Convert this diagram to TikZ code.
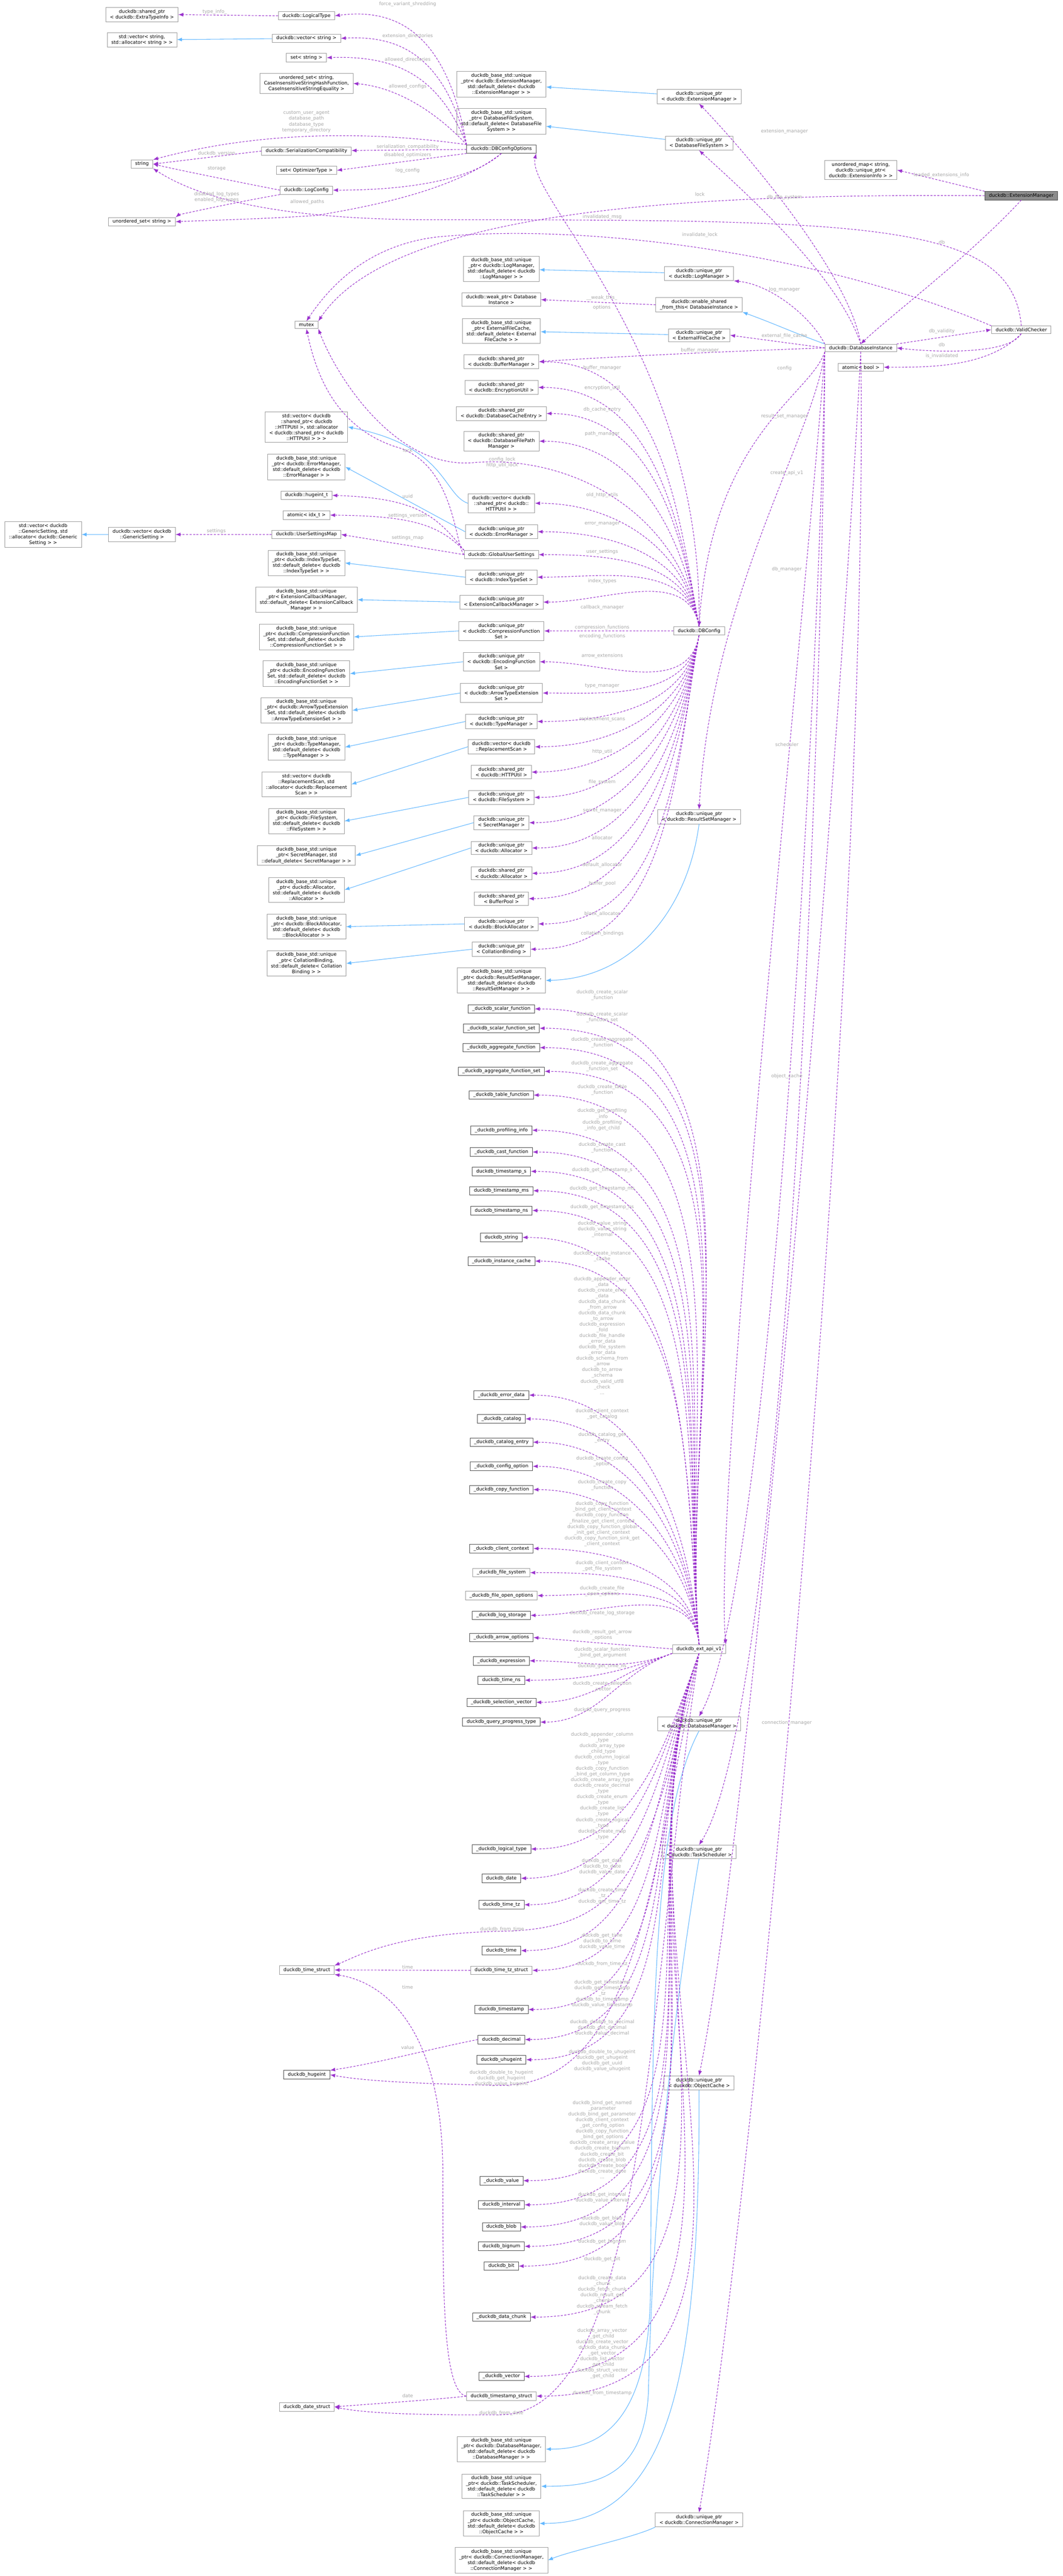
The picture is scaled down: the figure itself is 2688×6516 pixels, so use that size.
\documentclass[tikz,border=0pt]{standalone}
\usepackage{fontspec}
\setmainfont{DejaVu Sans}
\usetikzlibrary{arrows.meta}
\definecolor{mem}{HTML}{9A32CD}
\definecolor{inh}{HTML}{63B8FF}
\definecolor{lblc}{HTML}{A8A8A8}
\definecolor{brd}{HTML}{9A9A9A}
\begin{document}
\begin{tikzpicture}[x=0.25pt,y=-0.25pt,
 n/.style={draw=brd,line width=0.25pt,fill=white,font=\fontsize{3}{3.6}\selectfont,align=center,inner xsep=2.6pt,inner ysep=1.2pt},
 nd/.style={n,draw=black!70},
 hl/.style={n,fill=black!45,draw=black!70},
 l/.style={font=\fontsize{3}{3.6}\selectfont,text=lblc,align=center,inner sep=0pt},
 mem/.style={draw=mem,line width=0.35pt,dash pattern=on 1.3pt off 0.9pt,-{Latex[length=3.2pt,width=2.4pt]}},
 inh/.style={draw=inh,line width=0.35pt,-{Latex[length=3.2pt,width=2.4pt]}}]
\path[fill=white] (0,0) rectangle (2688,6516);
\useasboundingbox (0,0) rectangle (2688,6516);
% ---- left columns
\node[n] (eti) at (359,37) {duckdb::shared\_ptr\\< duckdb::ExtraTypeInfo >};
\node[n] (svs) at (359,101) {std::vector< string,\\ std::allocator< string > >};
\node[n] (str) at (359,415) {string};
\node[n] (uss) at (359,561) {unordered\_set< string >};
\node[n] (svg) at (109,1352) {std::vector< duckdb\\::GenericSetting, std\\::allocator< duckdb::Generic\\Setting > >};
\node[n] (vgs) at (359,1352) {duckdb::vector< duckdb\\::GenericSetting >};
% ---- column 775
\node[n] (lt) at (775,40) {duckdb::LogicalType};
\node[n] (vs) at (775,97) {duckdb::vector< string >};
\node[n] (ss) at (775,146) {set< string >};
\node[n] (usci) at (775,211) {unordered\_set< string,\\ CaseInsensitiveStringHashFunction,\\ CaseInsensitiveStringEquality >};
\node[n] (sc) at (775,382) {duckdb::SerializationCompatibility};
\node[n] (sot) at (775,431) {set< OptimizerType >};
\node[n] (lc) at (775,481) {duckdb::LogConfig};
\node[n] (mtx) at (775,822) {mutex};
\node[n] (svh) at (775,1080) {std::vector< duckdb\\::shared\_ptr< duckdb\\::HTTPUtil >, std::allocator\\< duckdb::shared\_ptr< duckdb\\::HTTPUtil > > >};
\node[n] (bem) at (775,1181) {duckdb\_base\_std::unique\\\_ptr< duckdb::ErrorManager,\\ std::default\_delete< duckdb\\::ErrorManager > >};
\node[n] (hug) at (775,1253) {duckdb::hugeint\_t};
\node[n] (aidx) at (775,1303) {atomic< idx\_t >};
\node[n] (usm) at (775,1352) {duckdb::UserSettingsMap};
\node[n] (bit) at (775,1424) {duckdb\_base\_std::unique\\\_ptr< duckdb::IndexTypeSet,\\ std::default\_delete< duckdb\\::IndexTypeSet > >};
\node[n] (becb) at (775,1517) {duckdb\_base\_std::unique\\\_ptr< ExtensionCallbackManager,\\ std::default\_delete< ExtensionCallback\\Manager > >};
\node[n] (bcfs) at (775,1611) {duckdb\_base\_std::unique\\\_ptr< duckdb::CompressionFunction\\Set, std::default\_delete< duckdb\\::CompressionFunctionSet > >};
\node[n] (befs) at (775,1704) {duckdb\_base\_std::unique\\\_ptr< duckdb::EncodingFunction\\Set, std::default\_delete< duckdb\\::EncodingFunctionSet > >};
\node[n] (bats) at (775,1797) {duckdb\_base\_std::unique\\\_ptr< duckdb::ArrowTypeExtension\\Set, std::default\_delete< duckdb\\::ArrowTypeExtensionSet > >};
\node[n] (btm) at (775,1890) {duckdb\_base\_std::unique\\\_ptr< duckdb::TypeManager,\\ std::default\_delete< duckdb\\::TypeManager > >};
\node[n] (svr) at (775,1984) {std::vector< duckdb\\::ReplacementScan, std\\::allocator< duckdb::Replacement\\Scan > >};
\node[n] (bfs) at (775,2077) {duckdb\_base\_std::unique\\\_ptr< duckdb::FileSystem,\\ std::default\_delete< duckdb\\::FileSystem > >};
\node[n] (bsm) at (775,2164) {duckdb\_base\_std::unique\\\_ptr< SecretManager, std\\::default\_delete< SecretManager > >};
\node[n] (bal) at (775,2251) {duckdb\_base\_std::unique\\\_ptr< duckdb::Allocator,\\ std::default\_delete< duckdb\\::Allocator > >};
\node[n] (bba) at (775,2344) {duckdb\_base\_std::unique\\\_ptr< duckdb::BlockAllocator,\\ std::default\_delete< duckdb\\::BlockAllocator > >};
\node[n] (bcb) at (775,2437) {duckdb\_base\_std::unique\\\_ptr< CollationBinding,\\ std::default\_delete< Collation\\Binding > >};
\node[n] (tstr) at (776,4983) {duckdb\_time\_struct};
\node[nd] (hstr) at (776,5248) {duckdb\_hugeint};
\node[n] (dstr) at (776,6088) {duckdb\_date\_struct};
% ---- column 1268
\node[n] (bext) at (1268,213) {duckdb\_base\_std::unique\\\_ptr< duckdb::ExtensionManager,\\ std::default\_delete< duckdb\\::ExtensionManager > >};
\node[n] (bdfs) at (1268,307) {duckdb\_base\_std::unique\\\_ptr< DatabaseFileSystem,\\ std::default\_delete< DatabaseFile\\System > >};
\node[nd] (dco) at (1268,377) {duckdb::DBConfigOptions};
\node[n] (blm) at (1268,680) {duckdb\_base\_std::unique\\\_ptr< duckdb::LogManager,\\ std::default\_delete< duckdb\\::LogManager > >};
\node[n] (wpdi) at (1268,758) {duckdb::weak\_ptr< Database\\Instance >};
\node[n] (befc) at (1268,837) {duckdb\_base\_std::unique\\\_ptr< ExternalFileCache,\\ std::default\_delete< External\\FileCache > >};
\node[n] (sbm) at (1268,915) {duckdb::shared\_ptr\\< duckdb::BufferManager >};
\node[n] (seu) at (1268,980) {duckdb::shared\_ptr\\< duckdb::EncryptionUtil >};
\node[n] (sdce) at (1268,1046) {duckdb::shared\_ptr\\< duckdb::DatabaseCacheEntry >};
\node[n] (sdfp) at (1268,1116) {duckdb::shared\_ptr\\< duckdb::DatabaseFilePath\\Manager >};
\node[n] (vhu) at (1268,1273) {duckdb::vector< duckdb\\::shared\_ptr< duckdb::\\HTTPUtil > >};
\node[n] (uerr) at (1268,1345) {duckdb::unique\_ptr\\< duckdb::ErrorManager >};
\node[n] (gus) at (1268,1403) {duckdb::GlobalUserSettings};
\node[n] (uidx) at (1268,1460) {duckdb::unique\_ptr\\< duckdb::IndexTypeSet >};
\node[n] (uecb) at (1268,1523) {duckdb::unique\_ptr\\< ExtensionCallbackManager >};
\node[n] (ucfs) at (1268,1596) {duckdb::unique\_ptr\\< duckdb::CompressionFunction\\Set >};
\node[n] (uefs) at (1268,1674) {duckdb::unique\_ptr\\< duckdb::EncodingFunction\\Set >};
\node[n] (uats) at (1268,1753) {duckdb::unique\_ptr\\< duckdb::ArrowTypeExtension\\Set >};
\node[n] (utm) at (1268,1825) {duckdb::unique\_ptr\\< duckdb::TypeManager >};
\node[n] (vrs) at (1268,1889) {duckdb::vector< duckdb\\::ReplacementScan >};
\node[n] (shu) at (1268,1953) {duckdb::shared\_ptr\\< duckdb::HTTPUtil >};
\node[n] (ufs) at (1268,2017) {duckdb::unique\_ptr\\< duckdb::FileSystem >};
\node[n] (usec) at (1268,2081) {duckdb::unique\_ptr\\< SecretManager >};
\node[n] (ual) at (1268,2145) {duckdb::unique\_ptr\\< duckdb::Allocator >};
\node[n] (sal) at (1268,2209) {duckdb::shared\_ptr\\< duckdb::Allocator >};
\node[n] (sbp) at (1268,2273) {duckdb::shared\_ptr\\< BufferPool >};
\node[n] (uba) at (1268,2337) {duckdb::unique\_ptr\\< duckdb::BlockAllocator >};
\node[n] (ucb) at (1268,2401) {duckdb::unique\_ptr\\< CollationBinding >};
\node[n] (brsm) at (1268,2480) {duckdb\_base\_std::unique\\\_ptr< duckdb::ResultSetManager,\\ std::default\_delete< duckdb\\::ResultSetManager > >};
% C api structs
\node[nd] (sf) at (1268,2552) {\_duckdb\_scalar\_function};
\node[nd] (sfs) at (1268,2601) {\_duckdb\_scalar\_function\_set};
\node[nd] (af) at (1268,2650) {\_duckdb\_aggregate\_function};
\node[nd] (afs) at (1268,2710) {\_duckdb\_aggregate\_function\_set};
\node[nd] (tf) at (1268,2770) {\_duckdb\_table\_function};
\node[nd] (pi) at (1268,2859) {\_duckdb\_profiling\_info};
\node[nd] (cf) at (1268,2914) {\_duckdb\_cast\_function};
\node[nd] (tss) at (1268,2963) {duckdb\_timestamp\_s};
\node[nd] (tsms) at (1268,3012) {duckdb\_timestamp\_ms};
\node[nd] (tsns) at (1268,3062) {duckdb\_timestamp\_ns};
\node[nd] (dsg) at (1268,3130) {duckdb\_string};
\node[nd] (ic) at (1268,3190) {\_duckdb\_instance\_cache};
\node[nd] (ed) at (1268,3529) {\_duckdb\_error\_data};
\node[nd] (cat) at (1268,3589) {\_duckdb\_catalog};
\node[nd] (ce) at (1268,3648) {\_duckdb\_catalog\_entry};
\node[nd] (co) at (1268,3709) {\_duckdb\_config\_option};
\node[nd] (cpf) at (1268,3768) {\_duckdb\_copy\_function};
\node[nd] (cc) at (1268,3917) {\_duckdb\_client\_context};
\node[n] (fsys) at (1268,3978) {\_duckdb\_file\_system};
\node[n] (foo) at (1268,4036) {\_duckdb\_file\_open\_options};
\node[nd] (ls) at (1268,4086) {\_duckdb\_log\_storage};
\node[nd] (ao) at (1268,4142) {\_duckdb\_arrow\_options};
\node[nd] (expr) at (1268,4201) {\_duckdb\_expression};
\node[nd] (tns) at (1268,4250) {duckdb\_time\_ns};
\node[nd] (sv) at (1268,4306) {\_duckdb\_selection\_vector};
\node[nd] (qpt) at (1268,4356) {duckdb\_query\_progress\_type};
\node[nd] (lty) at (1268,4677) {\_duckdb\_logical\_type};
\node[nd] (date) at (1268,4751) {duckdb\_date};
\node[nd] (ttz) at (1268,4818) {duckdb\_time\_tz};
\node[nd] (time) at (1268,4934) {duckdb\_time};
\node[n] (ttzs) at (1268,4984) {duckdb\_time\_tz\_struct};
\node[nd] (ts) at (1268,5083) {duckdb\_timestamp};
\node[nd] (dec) at (1268,5159) {duckdb\_decimal};
\node[nd] (uh) at (1268,5210) {duckdb\_uhugeint};
\node[nd] (val) at (1268,5516) {\_duckdb\_value};
\node[nd] (intv) at (1268,5577) {duckdb\_interval};
\node[nd] (blob) at (1268,5633) {duckdb\_blob};
\node[nd] (bign) at (1268,5682) {duckdb\_bignum};
\node[nd] (bitn) at (1268,5732) {duckdb\_bit};
\node[nd] (dch) at (1268,5861) {\_duckdb\_data\_chunk};
\node[nd] (vec) at (1268,6011) {\_duckdb\_vector};
\node[n] (tsst) at (1268,6061) {duckdb\_timestamp\_struct};
\node[n] (bdbm) at (1268,6195) {duckdb\_base\_std::unique\\\_ptr< duckdb::DatabaseManager,\\ std::default\_delete< duckdb\\::DatabaseManager > >};
\node[n] (bts) at (1268,6289) {duckdb\_base\_std::unique\\\_ptr< duckdb::TaskScheduler,\\ std::default\_delete< duckdb\\::TaskScheduler > >};
\node[n] (boc) at (1268,6383) {duckdb\_base\_std::unique\\\_ptr< duckdb::ObjectCache,\\ std::default\_delete< duckdb\\::ObjectCache > >};
\node[n] (bcm) at (1268,6476) {duckdb\_base\_std::unique\\\_ptr< duckdb::ConnectionManager,\\ std::default\_delete< duckdb\\::ConnectionManager > >};
% ---- column 1768
\node[n] (uext) at (1768,244) {duckdb::unique\_ptr\\< duckdb::ExtensionManager >};
\node[n] (udfs) at (1768,362) {duckdb::unique\_ptr\\< DatabaseFileSystem >};
\node[n] (ulm) at (1768,692) {duckdb::unique\_ptr\\< duckdb::LogManager >};
\node[n] (esft) at (1768,771) {duckdb::enable\_shared\\\_from\_this< DatabaseInstance >};
\node[n] (uefc) at (1768,848) {duckdb::unique\_ptr\\< ExternalFileCache >};
\node[n] (dbc) at (1768,1596) {duckdb::DBConfig};
\node[n] (ursm) at (1768,2066) {duckdb::unique\_ptr\\< duckdb::ResultSetManager >};
\node[n] (ext) at (1768,4171) {duckdb\_ext\_api\_v1};
\node[n] (udbm) at (1768,4360) {duckdb::unique\_ptr\\< duckdb::DatabaseManager >};
\node[n] (uts) at (1768,4684) {duckdb::unique\_ptr\\< duckdb::TaskScheduler >};
\node[n] (uoc) at (1768,5269) {duckdb::unique\_ptr\\< duckdb::ObjectCache >};
\node[n] (ucm) at (1768,6374) {duckdb::unique\_ptr\\< duckdb::ConnectionManager >};
% ---- right
\node[n] (umap) at (2177,430) {unordered\_map< string,\\ duckdb::unique\_ptr<\\ duckdb::ExtensionInfo > >};
\node[n] (dbi) at (2177,880) {duckdb::DatabaseInstance};
\node[n] (ab) at (2177,929) {atomic< bool >};
\node[hl] (em) at (2583,495) {duckdb::ExtensionManager};
\node[n] (vc) at (2583,834) {duckdb::ValidChecker};

% ================= edges
% inheritance
\draw[inh] (vs) -- (svs);
\draw[inh] (uext) -- (bext);
\draw[inh] (udfs) -- (bdfs);
\draw[inh] (ulm) -- (blm);
\draw[inh] (uefc) -- (befc);
\draw[inh] (vgs) -- (svg);
\draw[inh] (dbi.north west) to[out=160,in=-20] (esft.south east);
\foreach \a/\b in {uerr/bem,uidx/bit,uecb/becb,ucfs/bcfs,uefs/befs,uats/bats,utm/btm,vrs/svr,ufs/bfs,usec/bsm,ual/bal,uba/bba,ucb/bcb}
  \draw[inh] (\a.west) -- (\b.east);
\draw[inh] (vhu.west) .. controls (1120,1250) and (1130,1130) .. (svh.east);
\draw[inh] (ursm.south) .. controls (1740,2300) and (1600,2475) .. (brsm.east);
\draw[inh] (udbm.south) .. controls (1650,4600) and (1650,5100) .. (1645,5800) .. controls (1640,6150) and (1500,6195) .. (bdbm.east);
\draw[inh] (uts.south) .. controls (1700,5100) and (1650,5600) .. (1640,6050) .. controls (1630,6270) and (1500,6289) .. (bts.east);
\draw[inh] (uoc.south) .. controls (1770,6000) and (1700,6383) .. (boc.east);
\draw[inh] (ucm.south west) .. controls (1600,6420) and (1450,6450) .. (bcm.east);

% DBConfigOptions members
\draw[mem] (dco.north west) .. controls (1130,80) and (1000,20) .. (lt.east);
\draw[mem] (dco.north west) .. controls (1120,130) and (1000,90) .. (vs.east);
\draw[mem] (dco.north west) .. controls (1110,190) and (1000,140) .. (ss.east);
\draw[mem] (dco.north west) .. controls (1100,280) and (1000,220) .. (usci.east);
\draw[mem] (dco.north west) .. controls (1000,340) and (700,320) .. (str.north east);
\draw[mem] (dco) -- (sc);
\draw[mem] (dco.south west) -- (sot.east);
\draw[mem] (dco.south) .. controls (1200,450) and (1050,481) .. (lc.east);
\draw[mem] (dco.south) .. controls (1150,480) and (950,520) .. (800,545) .. controls (650,555) and (500,558) .. (uss.east);
\draw[mem] (lc.west) .. controls (600,460) and (450,430) .. (str.east);
\draw[mem] (lc.south west) .. controls (550,520) and (450,545) .. (uss.north east);
\draw[mem] (sc.west) -- (str.east);
\draw[mem] (lt.west) -- (eti.east);
\draw[mem] (dbc.north) .. controls (1780,900) and (1330,500) .. (dco.south east);
% ExtensionManager
\draw[mem] (em.north west) -- (umap.east);
\draw[mem] (em.west) .. controls (1800,490) and (1000,520) .. (mtx.north east);
\draw[mem] (em.south) .. controls (2450,650) and (2250,800) .. (dbi.north);
% ValidChecker
\draw[mem] (vc.north) .. controls (2560,560) and (2200,556) .. (1100,556) .. controls (700,556) and (500,500) .. (str.south east);
\draw[mem] (vc.north west) .. controls (2100,650) and (1500,560) .. (1100,600) .. controls (950,620) and (850,700) .. (mtx.north);
\draw[mem] (vc.south) .. controls (2550,900) and (2350,890) .. (dbi.east);
\draw[mem] (vc.south) .. controls (2500,930) and (2350,929) .. (ab.east);
\draw[mem] (dbi.north east) -- (vc.west);
% DatabaseInstance
\draw[mem] (dbi.north) .. controls (2150,700) and (1900,400) .. (uext.south);
\draw[mem] (dbi.north) .. controls (2120,700) and (1900,500) .. (udfs.south);
\draw[mem] (dbi.north west) .. controls (2050,800) and (1950,720) .. (ulm.south east);
\draw[mem] (dbi.west) -- (uefc.east);
\draw[mem] (dbi.west) .. controls (1800,890) and (1500,905) .. (sbm.east);
\draw[mem] (esft.west) -- (wpdi.east);
\draw[mem] (dbi.south west) .. controls (2050,1000) and (1800,1100) .. (dbc.north);
\draw[mem] (dbi.south west) .. controls (2060,1100) and (1800,1500) .. (ursm.north);
\draw[mem] (dbi.south west) .. controls (2060,1300) and (1800,3800) .. (ext.north east);
\draw[mem] (dbi.south west) .. controls (2080,1500) and (1960,4000) .. (udbm.north);
\draw[mem] (dbi.south west) .. controls (2085,1600) and (2000,4300) .. (uts.north);
\draw[mem] (dbi.south) .. controls (2120,2000) and (1900,4600) .. (uoc.north);
\draw[mem] (dbi.south) .. controls (2200,2500) and (1900,5600) .. (ucm.north);
% DBConfig members
\foreach \t in {sbm,seu,sdce,sdfp,vhu,uerr,gus,uidx,uecb}
  \draw[mem] (dbc.north) to[out=100,in=0] (\t.east);
\draw[mem] (dbc.west) -- (ucfs.east);
\foreach \t in {uefs,uats,utm,vrs,shu,ufs,usec,ual,sal,sbp,uba,ucb}
  \draw[mem] (dbc.south) to[out=260,in=0] (\t.east);
\draw[mem] (dbc.north) .. controls (1720,1300) and (1450,1150) .. (1200,1170) .. controls (1000,1190) and (850,950) .. (mtx.south east);
% GlobalUserSettings
\draw[mem] (gus.west) .. controls (1150,1380) and (1150,1170) .. (1000,1130) .. controls (850,1080) and (800,950) .. (mtx.south);
\draw[mem] (gus.north west) .. controls (1100,1300) and (1050,1260) .. (hug.east);
\draw[mem] (gus.north west) .. controls (1110,1330) and (1050,1305) .. (aidx.east);
\draw[mem] (gus.west) -- (usm.east);
\draw[mem] (usm.west) -- (vgs.east);
% ext api
\foreach \t in {sf,sfs,af,afs,tf,pi,cf,tss,tsms,tsns,dsg,ic,ed,cat,ce,co,cpf,cc,fsys,foo,ls}
  \draw[mem] (ext.north) to[out=95,in=0] (\t.east);
\draw[mem] (ext.west) -- (ao.east);
\foreach \t in {expr,tns,sv,qpt}
  \draw[mem] (ext.south west) to[out=200,in=0] (\t.east);
\foreach \t in {lty,date,ttz,time,ttzs,ts,dec,uh,val,intv,blob,bign,bitn,dch,vec,tsst}
  \draw[mem] (ext.south) to[out=250,in=0] (\t.east);
\draw[mem] (ext.south) .. controls (1640,4700) and (1600,4880) .. (1269,4885) .. controls (1000,4890) and (900,4950) .. (tstr.north east);
\draw[mem] (ext.south) .. controls (1640,4800) and (1600,5270) .. (1269,5275) .. controls (1000,5270) and (900,5260) .. (hstr.east);
\draw[mem] (ext.south) .. controls (1640,5000) and (1640,6100) .. (1269,6108) .. controls (1000,6110) and (900,6100) .. (dstr.east);
\draw[mem] (ttzs.west) -- (tstr.east);
\draw[mem] (tsst.west) .. controls (1120,6050) and (1120,5800) .. (1120,5500) .. controls (1120,5100) and (950,5010) .. (tstr.south east);
\draw[mem] (tsst.west) .. controls (1100,6070) and (950,6080) .. (dstr.east);
\draw[mem] (dec.west) .. controls (1100,5180) and (950,5220) .. (hstr.north east);

% ================= labels
\node[l] (l1) at (1031,11) {force\_variant\_shredding};
\node[l] (l2) at (543,30) {type\_info\_};
\node[l] (l3) at (1031,91) {extension\_directories};
\node[l] (l4) at (1031,151) {allowed\_directories};
\node[l] (l5) at (1031,219) {allowed\_configs};
\node[l] (l6) at (775,308) {custom\_user\_agent\\database\_path\\database\_type\\temporary\_directory};
\node[l] (l7) at (1031,371) {serialization\_compatibility};
\node[l] (l8) at (1031,392) {disabled\_optimizers};
\node[l] (l9) at (548,389) {duckdb\_version};
\node[l] (l10) at (548,427) {storage};
\node[l] (l11) at (1031,431) {log\_config};
\node[l] (l12) at (548,498) {disabled\_log\_types\\enabled\_log\_types};
\node[l] (l13) at (777,511) {allowed\_paths};
\node[l] (l14) at (2381,443) {loaded\_extensions\_info};
\node[l] (l15) at (1770,492) {lock};
\node[l] (l16) at (1984,499) {db\_file\_system};
\node[l] (l17) at (1523,549) {invalidated\_msg};
\node[l] (l18) at (1770,594) {invalidate\_lock};
\node[l] (l19) at (2382,612) {db};
\node[l] (l20) at (1984,333) {extension\_manager};
\node[l] (l21) at (1984,733) {log\_manager};
\node[l] (l22) at (1522,753) {\_\_weak\_this\_};
\node[l] (l23) at (1522,778) {options};
\node[l] (l24) at (1984,850) {external\_file\_cache};
\node[l] (l25) at (1770,886) {buffer\_manager};
\node[l] (l26) at (2382,838) {db\_validity};
\node[l] (l27) at (2382,872) {db};
\node[l] (l28) at (2382,901) {is\_invalidated};
\node[l] (l29) at (1984,932) {config};
\node[l] (l30) at (1523,930) {buffer\_manager};
\node[l] (l31) at (1523,981) {encryption\_util};
\node[l] (l32) at (1523,1036) {db\_cache\_entry};
\node[l] (l33) at (1523,1098) {path\_manager};
\node[l] (l34) at (1984,1053) {result\_set\_manager};
\node[l] (l35) at (1270,1170) {config\_lock\\http\_util\_lock};
\node[l] (l36) at (1031,1139) {lock};
\node[l] (l37) at (1031,1255) {uuid};
\node[l] (l38) at (1031,1305) {settings\_version};
\node[l] (l39) at (1031,1360) {settings\_map};
\node[l] (l40) at (547,1344) {settings};
\node[l] (l41) at (1523,1252) {old\_http\_utils};
\node[l] (l42) at (1523,1326) {error\_manager};
\node[l] (l43) at (1523,1396) {user\_settings};
\node[l] (l44) at (1523,1470) {index\_types};
\node[l] (l45) at (1523,1537) {callback\_manager};
\node[l] (l46) at (1523,1587) {compression\_functions};
\node[l] (l47) at (1523,1610) {encoding\_functions};
\node[l] (l48) at (1523,1659) {arrow\_extensions};
\node[l] (l49) at (1523,1735) {type\_manager};
\node[l] (l50) at (1523,1820) {replacement\_scans};
\node[l] (l51) at (1523,1902) {http\_util};
\node[l] (l52) at (1523,1978) {file\_system};
\node[l] (l53) at (1523,2050) {secret\_manager};
\node[l] (l54) at (1523,2119) {allocator};
\node[l] (l55) at (1523,2188) {default\_allocator};
\node[l] (l56) at (1523,2235) {buffer\_pool};
\node[l] (l57) at (1523,2312) {block\_allocator};
\node[l] (l58) at (1523,2362) {collation\_bindings};
\node[l] (l59) at (1990,1196) {create\_api\_v1};
\node[l] (l60) at (1990,1440) {db\_manager};
\node[l] (l61) at (1990,1883) {scheduler};
\node[l] (l62) at (1990,2723) {object\_cache};
\node[l] (l63) at (1990,4358) {connection\_manager};
\node[l] (c1) at (1523,2517) {duckdb\_create\_scalar\\\_function};
\node[l] (c2) at (1523,2573) {duckdb\_create\_scalar\\\_function\_set};
\node[l] (c3) at (1523,2637) {duckdb\_create\_aggregate\\\_function};
\node[l] (c4) at (1523,2697) {duckdb\_create\_aggregate\\\_function\_set};
\node[l] (c5) at (1523,2757) {duckdb\_create\_table\\\_function};
\node[l] (c6) at (1523,2832) {duckdb\_get\_profiling\\\_info\\duckdb\_profiling\\\_info\_get\_child};
\node[l] (c7) at (1523,2903) {duckdb\_create\_cast\\\_function};
\node[l] (c8) at (1523,2959) {duckdb\_get\_timestamp\_s};
\node[l] (c9) at (1523,3007) {duckdb\_get\_timestamp\_ms};
\node[l] (c10) at (1523,3054) {duckdb\_get\_timestamp\_ns};
\node[l] (c11) at (1523,3110) {duckdb\_value\_string\\duckdb\_value\_string\\\_internal};
\node[l] (c12) at (1523,3178) {duckdb\_create\_instance\\\_cache};
\node[l] (c13) at (1523,3378) {duckdb\_appender\_error\\\_data\\duckdb\_create\_error\\\_data\\duckdb\_data\_chunk\\\_from\_arrow\\duckdb\_data\_chunk\\\_to\_arrow\\duckdb\_expression\\\_fold\\duckdb\_file\_handle\\\_error\_data\\duckdb\_file\_system\\\_error\_data\\duckdb\_schema\_from\\\_arrow\\duckdb\_to\_arrow\\\_schema\\duckdb\_valid\_utf8\\\_check\\...};
\node[l] (c14) at (1523,3577) {duckdb\_client\_context\\\_get\_catalog};
\node[l] (c15) at (1523,3637) {duckdb\_catalog\_get\\\_entry};
\node[l] (c16) at (1523,3697) {duckdb\_create\_config\\\_option};
\node[l] (c17) at (1523,3757) {duckdb\_create\_copy\\\_function};
\node[l] (c18) at (1523,3855) {duckdb\_copy\_function\\\_bind\_get\_client\_context\\duckdb\_copy\_function\\\_finalize\_get\_client\_context\\duckdb\_copy\_function\_global\\\_init\_get\_client\_context\\duckdb\_copy\_function\_sink\_get\\\_client\_context};
\node[l] (c19) at (1523,3961) {duckdb\_client\_context\\\_get\_file\_system};
\node[l] (c20) at (1523,4025) {duckdb\_create\_file\\\_open\_options};
\node[l] (c21) at (1523,4080) {duckdb\_create\_log\_storage};
\node[l] (c22) at (1523,4136) {duckdb\_result\_get\_arrow\\\_options};
\node[l] (c23) at (1523,4180) {duckdb\_scalar\_function\\\_bind\_get\_argument};
\node[l] (c24) at (1523,4215) {duckdb\_get\_time\_ns};
\node[l] (c25) at (1523,4266) {duckdb\_create\_selection\\\_vector};
\node[l] (c26) at (1523,4326) {duckdb\_query\_progress};
\node[l] (c27) at (1523,4523) {duckdb\_appender\_column\\\_type\\duckdb\_array\_type\\\_child\_type\\duckdb\_column\_logical\\\_type\\duckdb\_copy\_function\\\_bind\_get\_column\_type\\duckdb\_create\_array\_type\\duckdb\_create\_decimal\\\_type\\duckdb\_create\_enum\\\_type\\duckdb\_create\_list\\\_type\\duckdb\_create\_logical\\\_type\\duckdb\_create\_map\\\_type\\...};
\node[l] (c28) at (1523,4721) {duckdb\_get\_date\\duckdb\_to\_date\\duckdb\_value\_date};
\node[l] (c29) at (1523,4796) {duckdb\_create\_time\\\_tz\\duckdb\_get\_time\_tz};
\node[l] (c30) at (1270,4881) {duckdb\_from\_time};
\node[l] (c31) at (1523,4910) {duckdb\_get\_time\\duckdb\_to\_time\\duckdb\_value\_time};
\node[l] (c32) at (1523,4968) {duckdb\_from\_time\_tz};
\node[l] (c33) at (1031,4975) {time};
\node[l] (c34) at (1031,5026) {time};
\node[l] (c35) at (1523,5043) {duckdb\_get\_timestamp\\duckdb\_get\_timestamp\\\_tz\\duckdb\_to\_timestamp\\duckdb\_value\_timestamp};
\node[l] (c36) at (1523,5130) {duckdb\_double\_to\_decimal\\duckdb\_get\_decimal\\duckdb\_value\_decimal};
\node[l] (c37) at (1031,5179) {value};
\node[l] (c38) at (1523,5212) {duckdb\_double\_to\_uhugeint\\duckdb\_get\_uhugeint\\duckdb\_get\_uuid\\duckdb\_value\_uhugeint};
\node[l] (c39) at (1268,5257) {duckdb\_double\_to\_hugeint\\duckdb\_get\_hugeint\\duckdb\_value\_hugeint};
\node[l] (c40) at (1523,5412) {duckdb\_bind\_get\_named\\\_parameter\\duckdb\_bind\_get\_parameter\\duckdb\_client\_context\\\_get\_config\_option\\duckdb\_copy\_function\\\_bind\_get\_options\\duckdb\_create\_array\_value\\duckdb\_create\_bignum\\duckdb\_create\_bit\\duckdb\_create\_blob\\duckdb\_create\_bool\\duckdb\_create\_date\\...};
\node[l] (c41) at (1523,5559) {duckdb\_get\_interval\\duckdb\_value\_interval};
\node[l] (c42) at (1523,5619) {duckdb\_get\_blob\\duckdb\_value\_blob};
\node[l] (c43) at (1523,5670) {duckdb\_get\_bignum};
\node[l] (c44) at (1523,5715) {duckdb\_get\_bit};
\node[l] (c45) at (1523,5806) {duckdb\_create\_data\\\_chunk\\duckdb\_fetch\_chunk\\duckdb\_result\_get\\\_chunk\\duckdb\_stream\_fetch\\\_chunk};
\node[l] (c46) at (1523,5953) {duckdb\_array\_vector\\\_get\_child\\duckdb\_create\_vector\\duckdb\_data\_chunk\\\_get\_vector\\duckdb\_list\_vector\\\_get\_child\\duckdb\_struct\_vector\\\_get\_child};
\node[l] (c47) at (1523,6054) {duckdb\_from\_timestamp};
\node[l] (c48) at (1031,6060) {date};
\node[l] (c49) at (1268,6104) {duckdb\_from\_date};
\end{tikzpicture}
\end{document}
